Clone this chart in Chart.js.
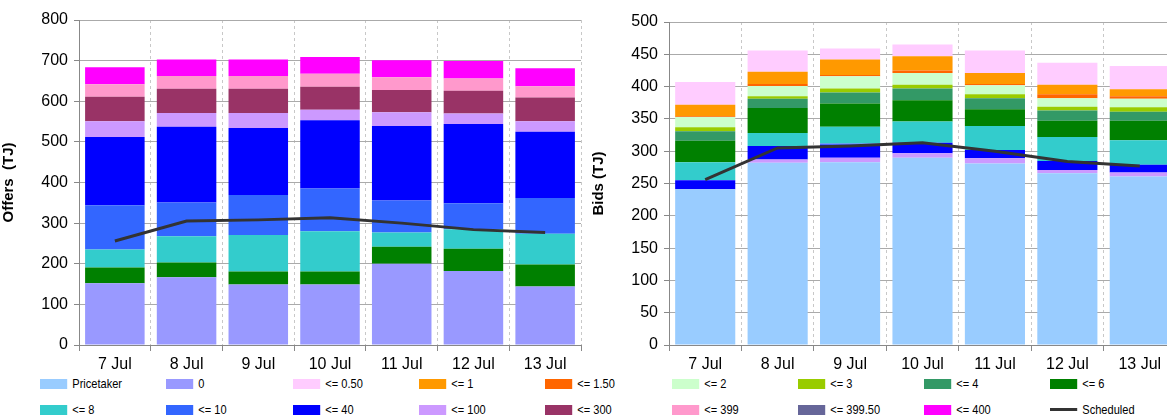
<!DOCTYPE html>
<html>
<head>
<meta charset="utf-8">
<script src="https://cdn.jsdelivr.net/npm/chart.js@4"></script>
<style>
  body { margin: 0; width: 1167px; height: 420px; overflow: hidden; background: #fff; position: relative; font-family: "Liberation Sans", Arial, sans-serif; }
  .box { position: absolute; top: 0; }
  .leg { position: absolute; font-size: 13px; color: #000; display: flex; align-items: center; white-space: nowrap; transform: scaleX(0.85); transform-origin: left center; }
  .sw { display: inline-block; width: 32px; height: 10px; margin-right: 6px; }
  .ln { display: inline-block; width: 32px; height: 3px; margin-right: 6px; background: #333; }
</style>
</head>
<body>
<div class="box" style="left:0"><canvas id="offersChart"></canvas></div>
<div class="box" style="left:590px"><canvas id="bidsChart"></canvas></div>
<div id="legend"></div>
<script>
const days = ["7 Jul", "8 Jul", "9 Jul", "10 Jul", "11 Jul", "12 Jul", "13 Jul"];
const scheduled = [256, 305, 308, 313, 300, 284, 277];

// Offers (bottom to top)
const offers0 = [152, 167, 149, 149, 200, 182, 144];
const offers6 = [39, 36, 32, 32, 42, 55, 54];
const offers8 = [44, 65, 90, 99, 35, 48, 76];
const offers10 = [109, 83, 98, 105, 79, 64, 88];
const offers40 = [168, 186, 165, 168, 183, 195, 163];
const offers100 = [39, 34, 37, 26, 34, 26, 26];
const offers300 = [60, 60, 60, 57, 55, 56, 58];
const offers399 = [31, 31, 31, 32, 31, 30, 28];
const offers400 = [42, 41, 41, 41, 42, 43, 44];

// Bids (bottom to top)
const bidsPricetaker = [241, 282, 283, 290, 281, 266, 261];
const bids100 = [0, 5, 7, 7, 8, 5, 6];
const bids40 = [14, 21, 20, 16, 13, 14, 12];
const bids10 = [0, 0, 2, 0, 0, 0, 0];
const bids8 = [28, 20, 26, 33, 37, 37, 38];
const bids6 = [33, 39, 36, 33, 26, 25, 30];
const bids4 = [15, 14, 17, 18, 17, 16, 14];
const bids3 = [6, 4, 6, 6, 6, 6, 7];
const bids2 = [16, 16, 19, 18, 14, 13, 13];
const bids150 = [1, 3, 2, 4, 2, 6, 4];
const bids1 = [18, 19, 24, 22, 17, 15, 11];
const bids050 = [35, 33, 17, 18, 35, 34, 36];

const colors = {
  "Pricetaker": "#99CCFF", "0": "#9999FF", "<= 0.50": "#FFCCFF", "<= 1": "#FF9900",
  "<= 1.50": "#FF6600", "<= 2": "#CCFFCC", "<= 3": "#99CC00", "<= 4": "#339966",
  "<= 6": "#008000", "<= 8": "#33CCCC", "<= 10": "#3366FF", "<= 40": "#0000FF",
  "<= 100": "#CC99FF", "<= 300": "#993366", "<= 399": "#FF99CC", "<= 399.50": "#666699",
  "<= 400": "#FF00FF"
};

const font = { family: "'Liberation Sans', Arial, sans-serif", size: 16 };

function bar(label, data) {
  return { type: "bar", label, data, backgroundColor: colors[label], stack: "s",
           barPercentage: 0.83, categoryPercentage: 1, order: 1 };
}

function makeChart(id, datasets, max, step, title, padRight, padTop) {
  const cv = document.getElementById(id);
  cv.width = 590; cv.height = 370;
  datasets.push({ type: "line", label: "Scheduled", data: scheduled, borderColor: "#333333",
    borderWidth: 3, pointRadius: 0, tension: 0, stack: "line", order: 0 });
  new Chart(cv, {
    data: { labels: days, datasets },
    options: {
      responsive: false, animation: false,
      layout: { padding: { top: padTop, right: padRight, left: 0, bottom: 0 } },
      plugins: { legend: { display: false }, tooltip: { enabled: false } },
      scales: {
        x: { stacked: true, offset: true,
             grid: { offset: true, color: "#c8c8c8", tickLength: 6, tickColor: "#888" },
             border: { color: "#888", dash: [3, 3] },
             ticks: { color: "#000", font, padding: 4 },
             afterFit: (s) => { s.height = 25; } },
        y: { stacked: true, min: 0, max,
             ticks: { stepSize: step, color: "#000", font, padding: 6 },
             grid: { color: "#aaaaaa", tickLength: 5, tickColor: "#888" },
             border: { color: "#888" },
             title: { display: true, text: title, color: "#000", font: { ...font, size: 15, weight: "bold" }, padding: 0 },
             afterFit: (s) => { s.width = 79; } }
      }
    }
  });
}

makeChart("offersChart", [
  bar("0", offers0), bar("<= 6", offers6), bar("<= 8", offers8), bar("<= 10", offers10),
  bar("<= 40", offers40), bar("<= 100", offers100), bar("<= 300", offers300),
  bar("<= 399", offers399), bar("<= 400", offers400)
], 800, 100, "Offers  (TJ)", 9, 20);

makeChart("bidsChart", [
  bar("Pricetaker", bidsPricetaker), bar("<= 100", bids100), bar("<= 40", bids40),
  bar("<= 10", bids10), bar("<= 8", bids8), bar("<= 6", bids6), bar("<= 4", bids4),
  bar("<= 3", bids3), bar("<= 2", bids2), bar("<= 1.50", bids150), bar("<= 1", bids1),
  bar("<= 0.50", bids050)
], 500, 50, "Bids (TJ)", 4, 22);

// legend
const legendItems = ["Pricetaker", "0", "<= 0.50", "<= 1", "<= 1.50", "<= 2", "<= 3", "<= 4", "<= 6",
  "<= 8", "<= 10", "<= 40", "<= 100", "<= 300", "<= 399", "<= 399.50", "<= 400", "Scheduled"];
const legendX = [40, 166, 293, 419, 545, 672, 798, 924, 1050];
const legend = document.getElementById("legend");
legendItems.forEach((name, i) => {
  const d = document.createElement("div");
  d.className = "leg";
  d.style.left = legendX[i % 9] + "px";
  d.style.top = (i < 9 ? 376 : 402) + "px";
  const mark = name === "Scheduled" ? '<span class="ln"></span>' :
    '<span class="sw" style="background:' + colors[name] + '"></span>';
  d.innerHTML = mark + name;
  legend.appendChild(d);
});
</script>
</body>
</html>
